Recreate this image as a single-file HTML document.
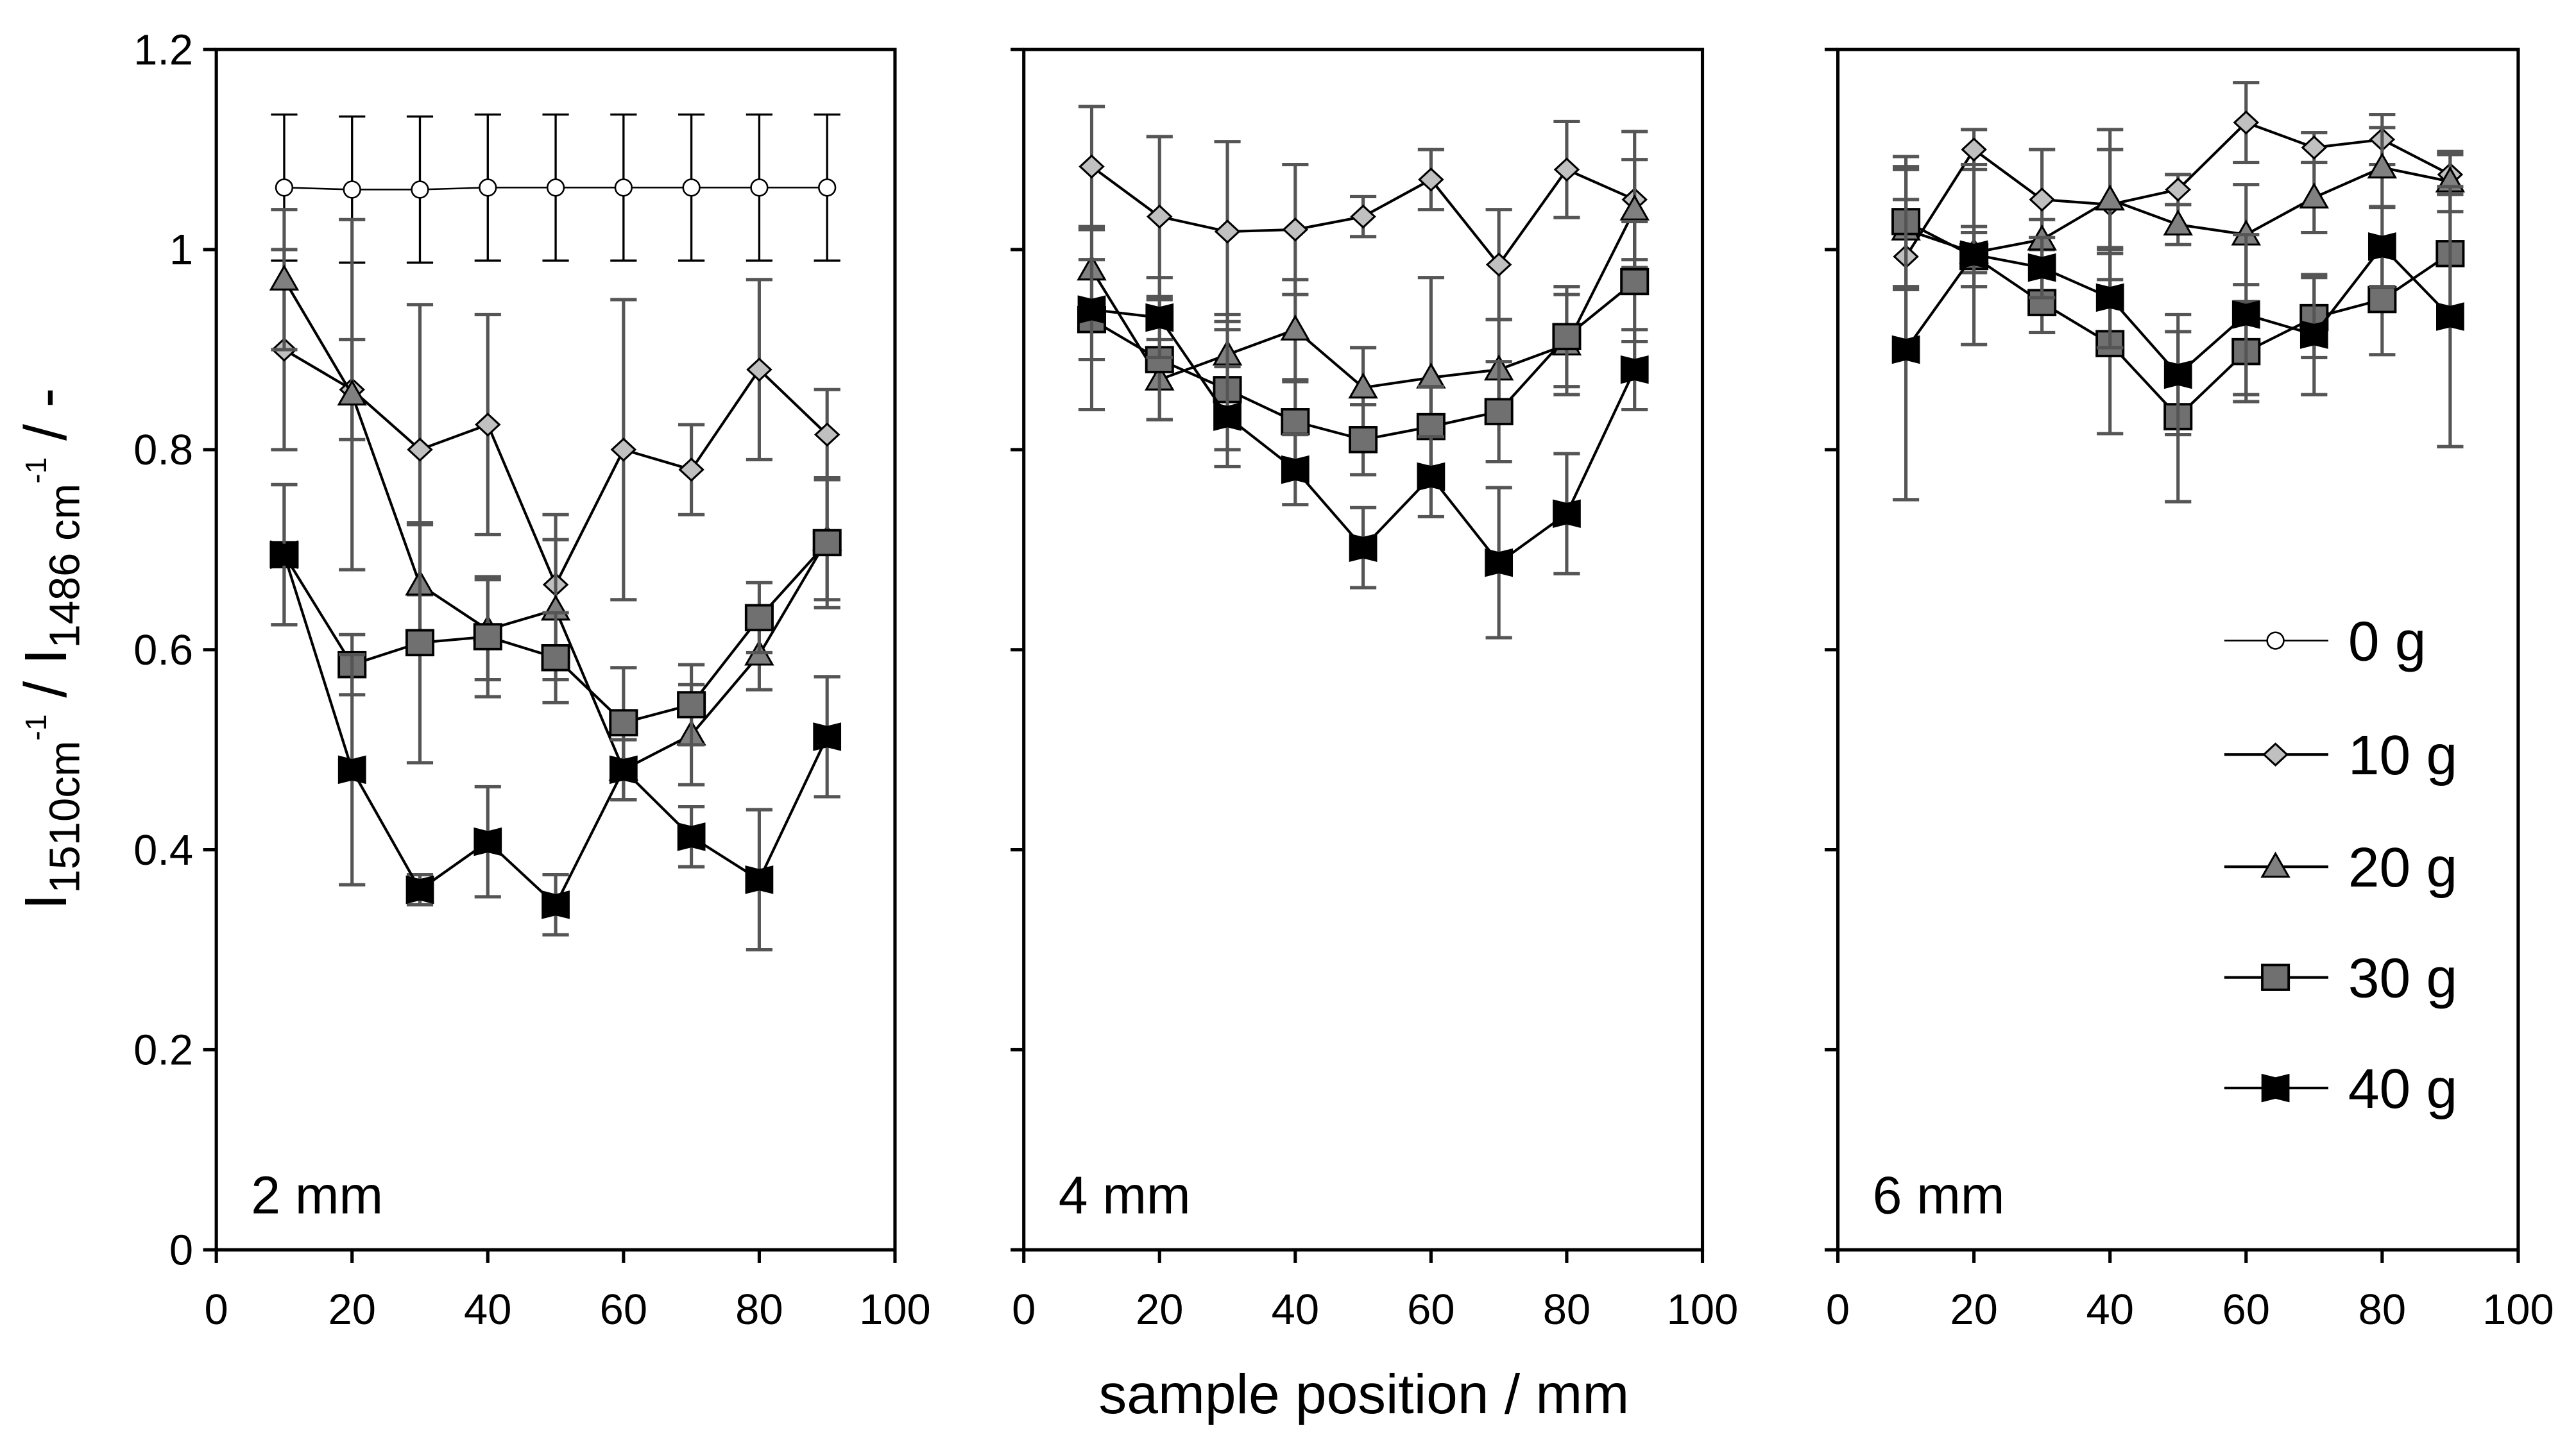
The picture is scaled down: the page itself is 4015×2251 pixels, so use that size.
<!DOCTYPE html>
<html><head><meta charset="utf-8"><style>
html,body{margin:0;padding:0;background:#fff;}
svg{display:block;font-family:"Liberation Sans",Arial,sans-serif;}
</style></head><body>
<svg id="chart" width="4015" height="2251" viewBox="0 0 1560 874.6" preserveAspectRatio="none" xmlns="http://www.w3.org/2000/svg">
<g id="root"></g>
<text x="826" y="856" font-size="34" text-anchor="middle">sample position / mm</text>
<text transform="translate(40,393) rotate(-90)" text-anchor="middle" font-size="36">I<tspan font-size="26" dy="8">1510cm</tspan><tspan font-size="18" dy="-20">-1</tspan><tspan font-size="36" dy="12"> / I</tspan><tspan font-size="26" dy="8">1486 cm</tspan><tspan font-size="18" dy="-20">-1</tspan><tspan font-size="36" dy="12"> / -</tspan></text>
</svg>
<script>
const xPos=[10,20,30,40,50,60,70,80,90];
const seriesNames=["0 g","10 g","20 g","30 g","40 g"];
const panelNames=["2 mm","4 mm","6 mm"];
const xTicks=[0,20,40,60,80,100];
const yTicks=[0,0.2,0.4,0.6,0.8,1,1.2];
const yTickLabels=["0","0.2","0.4","0.6","0.8","1","1.2"];
// panel 1 (2 mm)
const p1_0=[1.062,1.060,1.060,1.062,1.062,1.062,1.062,1.062,1.062];
const p1_0e=[0.073,0.073,0.073,0.073,0.073,0.073,0.073,0.073,0.073];
const p1_10=[0.90,0.86,0.80,0.825,0.665,0.80,0.78,0.88,0.815];
const p1_10e=[0.10,0.05,0.145,0.11,0.07,0.15,0.045,0.09,0.045];
const p1_20=[0.97,0.855,0.665,0.62,0.64,0.48,0.515,0.595,0.71];
const p1_20e=[0.07,0.175,0.06,0.05,0.07,0.03,0.05,0.035,0.06];
const p1_30=[0.695,0.585,0.607,0.613,0.592,0.527,0.545,0.632,0.707];
const p1_30e=[0.07,0.03,0.12,0.06,0.045,0.055,0.04,0.035,0.065];
const p1_40=[0.695,0.48,0.36,0.408,0.345,0.48,0.413,0.37,0.513];
const p1_40e=[0.07,0.115,0.015,0.055,0.03,0.03,0.03,0.07,0.06];
// panel 2 (4 mm)
const p2_10=[1.083,1.033,1.018,1.02,1.033,1.07,0.985,1.08,1.05];
const p2_10e=[0.06,0.08,0.09,0.065,0.02,0.03,0.055,0.048,0.068];
const p2_20=[0.98,0.87,0.895,0.92,0.862,0.872,0.88,0.905,1.04];
const p2_20e=[0.04,0.04,0.04,0.05,0.04,0.1,0.05,0.05,0.05];
const p2_30=[0.93,0.89,0.86,0.828,0.81,0.823,0.838,0.913,0.968];
const p2_30e=[0.09,0.06,0.06,0.04,0.035,0.04,0.05,0.05,0.06];
const p2_40=[0.94,0.932,0.833,0.78,0.702,0.773,0.687,0.736,0.88];
const p2_40e=[0.05,0.04,0.05,0.035,0.04,0.04,0.075,0.06,0.04];
// panel 3 (6 mm)
const p3_10=[0.993,1.10,1.05,1.045,1.06,1.127,1.102,1.11,1.075];
const p3_10e=[0.09,0.02,0.05,0.075,0.015,0.04,0.015,0.025,0.02];
const p3_20=[1.02,0.997,1.01,1.05,1.025,1.015,1.052,1.082,1.068];
const p3_20e=[0.06,0.02,0.02,0.05,0.02,0.05,0.035,0.04,0.03];
const p3_30=[1.028,0.993,0.947,0.906,0.833,0.898,0.932,0.95,0.996];
const p3_30e=[0.065,0.03,0.03,0.09,0.085,0.05,0.04,0.055,0.06];
const p3_40=[0.90,0.995,0.982,0.952,0.875,0.935,0.915,1.003,0.933];
const p3_40e=[0.15,0.09,0.03,0.05,0.06,0.08,0.06,0.04,0.13];

const NS="http://www.w3.org/2000/svg";
const root=document.getElementById('root');
function mk(tag,attrs,parent){const e=document.createElementNS(NS,tag);for(const k in attrs)e.setAttribute(k,attrs[k]);(parent||root).appendChild(e);return e;}
const Y0=757,Y1=30;
function yS(v){return Y0-(v/1.2)*(Y0-Y1);}
const panelsX=[[131,542],[620,1031],[1113,1525]];
const styles=[
 {m:'circle',fill:'#fff',line:'#000',err:'#000',ew:1.3},
 {m:'diamond',fill:'#c0c0c0',line:'#000',err:'#555',ew:2},
 {m:'tri',fill:'#808080',line:'#000',err:'#555',ew:2},
 {m:'square',fill:'#707070',line:'#000',err:'#555',ew:2},
 {m:'bow',fill:'#000',line:'#000',err:'#555',ew:2}];
function marker(t,x,y,s,g){
 let e;
 if(t==='circle')e=mk('circle',{cx:x,cy:y,r:5,fill:s.fill,stroke:'#000','stroke-width':1},g);
 else if(t==='diamond')e=mk('polygon',{points:`${x},${y-6.5} ${x+7},${y} ${x},${y+6.5} ${x-7},${y}`,fill:s.fill,stroke:'#000','stroke-width':1.2},g);
 else if(t==='tri')e=mk('polygon',{points:`${x},${y-8} ${x+8},${y+6} ${x-8},${y+6}`,fill:s.fill,stroke:'#000','stroke-width':1.2},g);
 else if(t==='square')e=mk('rect',{x:x-8,y:y-7.5,width:16,height:15,fill:s.fill,stroke:'#000','stroke-width':1.5},g);
 else e=mk('polygon',{points:`${x-8},${y-8} ${x},${y-6} ${x+8},${y-8} ${x+8},${y+8} ${x},${y+6} ${x-8},${y+8}`,fill:'#000',stroke:'#000','stroke-width':1},g);
 return e;
}
const panelData=[
 [[p1_0,p1_0e],[p1_10,p1_10e],[p1_20,p1_20e],[p1_30,p1_30e],[p1_40,p1_40e]],
 [null,[p2_10,p2_10e],[p2_20,p2_20e],[p2_30,p2_30e],[p2_40,p2_40e]],
 [null,[p3_10,p3_10e],[p3_20,p3_20e],[p3_30,p3_30e],[p3_40,p3_40e]]];
panelsX.forEach((px,pi)=>{
 const xS=v=>px[0]+v/100*(px[1]-px[0]);
 const g=mk('g',{});
 
 
 const fr=mk('rect',{x:px[0],y:Y1,width:px[1]-px[0],height:Y0-Y1,fill:'none',stroke:'#000','stroke-width':2},g);
 
 
 yTicks.forEach((v,i)=>{
  mk('line',{x1:px[0]-8,x2:px[0],y1:yS(v),y2:yS(v),stroke:'#000','stroke-width':2},g);
  if(pi===0){const t=mk('text',{x:px[0]-14,y:yS(v)+9,'font-size':26,'text-anchor':'end'},g);t.textContent=yTickLabels[i];
   
   }
 });
 xTicks.forEach(v=>{
  mk('line',{x1:xS(v),x2:xS(v),y1:Y0,y2:Y0+8,stroke:'#000','stroke-width':2},g);
  const t=mk('text',{x:xS(v),y:Y0+45,'font-size':26,'text-anchor':'middle'},g);t.textContent=String(v);
  
  
 });
 const pl=mk('text',{x:px[0]+21,y:735,'font-size':32},g);pl.textContent=panelNames[pi];
 
 
 panelData[pi].forEach((d,si)=>{
  if(!d)return;
  const s=styles[si];const vals=d[0],errs=d[1];
  const sg=mk('g',{},g);
  
  
  vals.forEach((v,i)=>{const x=xS(xPos[i]);const a=yS(v+errs[i]),b=yS(v-errs[i]);
   mk('line',{x1:x,x2:x,y1:a,y2:b,stroke:s.err,'stroke-width':s.ew},sg);
   mk('line',{x1:x-8,x2:x+8,y1:a,y2:a,stroke:s.err,'stroke-width':s.ew},sg);
   mk('line',{x1:x-8,x2:x+8,y1:b,y2:b,stroke:s.err,'stroke-width':s.ew},sg);});
  mk('polyline',{points:vals.map((v,i)=>xS(xPos[i])+','+yS(v)).join(' '),fill:'none',stroke:'#000','stroke-width':si===0?1:1.6},sg);
  vals.forEach((v,i)=>{const m=marker(s.m,xS(xPos[i]),yS(v),s,sg);
   
   });
 });
});
// legend
const lg=mk('g',{});


const legY=[388,457,525,592,659];
seriesNames.forEach((n,i)=>{
 const eg=mk('g',{},lg);
 
 
 mk('line',{x1:1347,x2:1410,y1:legY[i],y2:legY[i],stroke:'#000','stroke-width':i===0?1:1.6},eg);
 marker(styles[i].m,1378,legY[i],styles[i],eg);
 const t=mk('text',{x:1422,y:legY[i]+12,'font-size':34},eg);t.textContent=n;
});
</script>
</body></html>
